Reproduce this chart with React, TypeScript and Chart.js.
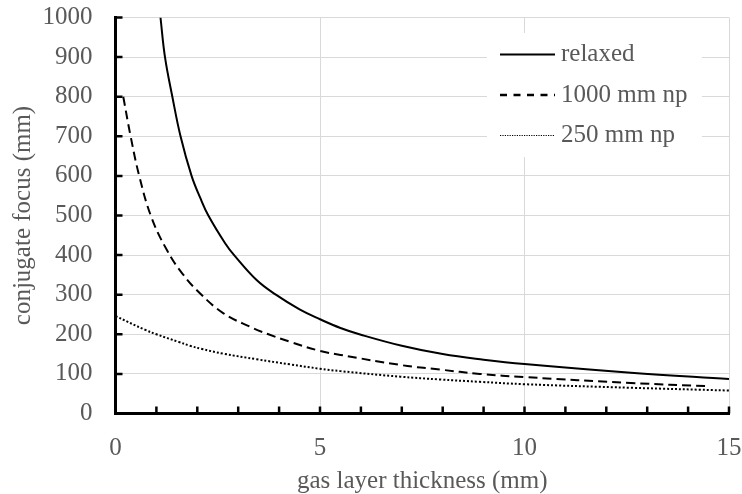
import React, { useEffect, useRef } from "react";
import { Chart, registerables } from "chart.js";

Chart.register(...registerables);

// Conjugate focus versus gas layer thickness, three accommodation states
const relaxedX = [1.1, 1.21, 1.39, 1.59, 1.86, 2.07, 2.27, 2.68, 2.9, 3.45, 3.92, 4.5, 5, 5.5, 6, 7, 8, 9, 10, 12.6, 15];
const relaxedY = [1000, 900, 800, 700, 600, 545, 500, 430, 400, 337, 300, 263, 238, 216, 199, 171, 150, 136, 125, 103, 87];

const np1000X = [0.19, 0.37, 0.58, 0.88, 1.26, 1.63, 2.07, 2.64, 3.29, 3.74, 4.27, 5, 5.5, 7, 7.93, 8.91, 10, 12.6, 14.5];
const np1000Y = [800, 700, 600, 495, 412, 354, 303, 253, 219, 200, 181, 158, 148, 122, 111, 100, 92, 77, 69];

const np250X = [0, 0.73, 1.0, 1.54, 1.82, 2.11, 2.64, 3.45, 4.27, 5, 5.5, 6.96, 7.93, 8.91, 10, 12.6, 15];
const np250Y = [246, 211, 200, 181, 171, 163, 151, 137, 124, 113, 107, 93, 86, 80, 74, 65, 58];

const seriesLabels = ["relaxed", "1000 mm np", "250 mm np"];

const xMin = 0;
const xMax = 15;
const xMajor = 5;
const xMinor = 1;
const yMin = 0;
const yMax = 1000;
const yStep = 100;

const xTitle = "gas layer thickness (mm)";
const yTitle = "conjugate focus (mm)";

const FONT = "'Liberation Serif', 'Times New Roman', Times, serif";
const FONT_SIZE = 25;
const TEXT = "#595959";
const GRID = "#d9d9d9";

const toPoints = (xs: number[], ys: number[]) => xs.map((x, i) => ({ x, y: ys[i] }));

// Short inward tick marks along both axes
const axisTicks = {
  id: "axisTicks",
  afterDatasetsDraw(chart: any) {
    const { ctx, chartArea: a, scales } = chart;
    const x = scales.x;
    const y = scales.y;
    ctx.save();
    ctx.strokeStyle = "#000";
    ctx.lineWidth = 2.5;
    ctx.beginPath();
    for (let v = xMin + xMinor; v <= xMax; v += xMinor) {
      const px = x.getPixelForValue(v);
      ctx.moveTo(px, a.bottom);
      ctx.lineTo(px, a.bottom - 7);
    }
    for (let v = yMin + yStep; v <= yMax; v += yStep) {
      const py = y.getPixelForValue(v);
      ctx.moveTo(a.left, py);
      ctx.lineTo(a.left + 7, py);
    }
    ctx.stroke();
    ctx.restore();
  },
};

// Legend boxed on a white panel inside the plot, upper right
const inlineLegend = {
  id: "inlineLegend",
  afterDraw(chart: any) {
    const { ctx } = chart;
    ctx.save();
    ctx.fillStyle = "#ffffff";
    ctx.fillRect(487, 33, 215, 124);
    chart.data.datasets.forEach((ds: any, i: number) => {
      const cy = 54.5 + i * 40.5;
      ctx.strokeStyle = ds.borderColor;
      ctx.lineWidth = ds.legendWidth ?? ds.borderWidth;
      ctx.setLineDash(ds.legendDash || ds.borderDash || []);
      ctx.beginPath();
      ctx.moveTo(500, cy);
      ctx.lineTo(555, cy);
      ctx.stroke();
      ctx.setLineDash([]);
      ctx.fillStyle = TEXT;
      ctx.font = `${FONT_SIZE}px ${FONT}`;
      ctx.textBaseline = "middle";
      ctx.textAlign = "left";
      ctx.fillText(ds.label, 561, cy);
    });
    ctx.restore();
  },
};

export default function App() {
  const canvasRef = useRef<HTMLCanvasElement | null>(null);

  useEffect(() => {
    document.body.style.margin = "0";
    const canvas = canvasRef.current;
    if (!canvas) return;
    let chart: Chart | null = null;
    let cancelled = false;

    const build = () => {
      if (cancelled) return;
      chart = new Chart(canvas, {
        type: "line",
        data: {
          datasets: [
            {
              label: seriesLabels[0],
              data: toPoints(relaxedX, relaxedY),
              borderColor: "#000000",
              borderWidth: 2,
              pointRadius: 0,
              tension: 0.4,
            },
            {
              label: seriesLabels[1],
              data: toPoints(np1000X, np1000Y),
              borderColor: "#000000",
              borderWidth: 2,
              borderDash: [9, 5],
              legendWidth: 2.5,
              legendDash: [7, 6.5],
              pointRadius: 0,
              tension: 0.4,
            },
            {
              label: seriesLabels[2],
              data: toPoints(np250X, np250Y),
              borderColor: "#000000",
              borderWidth: 2,
              borderDash: [2, 2],
              legendWidth: 1.2,
              legendDash: [1.2, 1.2],
              pointRadius: 0,
              tension: 0.4,
            },
          ] as any,
        },
        options: {
          animation: false,
          responsive: false,
          maintainAspectRatio: false,
          layout: { autoPadding: false, padding: { left: 0, right: 13, top: 17.5, bottom: 0 } },
          plugins: {
            legend: { display: false },
            tooltip: { enabled: false },
          },
          scales: {
            x: {
              type: "linear",
              min: xMin,
              max: xMax,
              afterFit: (scale: any) => {
                scale.height = 80.5;
                scale.paddingLeft = 0;
                scale.paddingRight = 0;
                scale.paddingTop = 0;
                scale.paddingBottom = 0;
              },
              ticks: {
                stepSize: xMinor,
                autoSkip: false,
                maxRotation: 0,
                color: TEXT,
                padding: 22,
                font: { family: FONT, size: FONT_SIZE, lineHeight: 1 },
                callback: (v: any) => (Number(v) % xMajor === 0 ? String(v) : ""),
              },
              grid: {
                drawTicks: false,
                lineWidth: 1,
                color: (c: any) =>
                  c.tick && c.tick.value % xMajor === 0 && c.tick.value !== xMin ? GRID : "rgba(0,0,0,0)",
              },
              border: { display: true, color: "#000000", width: 3 },
              title: {
                display: true,
                text: xTitle,
                color: TEXT,
                font: { family: FONT, size: FONT_SIZE, lineHeight: 1 },
                padding: { top: 0, bottom: 0 },
              },
            },
            y: {
              type: "linear",
              min: yMin,
              max: yMax,
              afterFit: (scale: any) => {
                scale.width = 115.5;
                scale.paddingLeft = 0;
                scale.paddingRight = 0;
                scale.paddingTop = 0;
                scale.paddingBottom = 0;
              },
              ticks: {
                stepSize: yStep,
                color: TEXT,
                padding: 23,
                font: { family: FONT, size: FONT_SIZE, lineHeight: 1 },
                callback: (v: any) => String(v),
              },
              grid: { drawTicks: false, color: GRID, lineWidth: 1 },
              border: { display: true, color: "#000000", width: 3 },
              title: {
                display: true,
                text: yTitle,
                color: TEXT,
                font: { family: FONT, size: FONT_SIZE, lineHeight: 1 },
                padding: { top: 11, bottom: 0 },
              },
            },
          },
        },
        plugins: [axisTicks, inlineLegend],
      } as any);
    };

    const fonts: any = (document as any).fonts;
    if (fonts && fonts.load) {
      Promise.all([
        fonts.load(`${FONT_SIZE}px 'Liberation Serif'`),
        fonts.load(`${FONT_SIZE}px 'Liberation Serif'`, "1000 mm np relaxed"),
      ])
        .catch(() => undefined)
        .then(build);
    } else {
      build();
    }

    return () => {
      cancelled = true;
      if (chart) chart.destroy();
    };
  }, []);

  return (
    <div style={{ position: "absolute", left: 0, top: 0, width: 742, height: 494, background: "#fff" }}>
      <canvas ref={canvasRef} width={742} height={494} style={{ display: "block" }} />
    </div>
  );
}
